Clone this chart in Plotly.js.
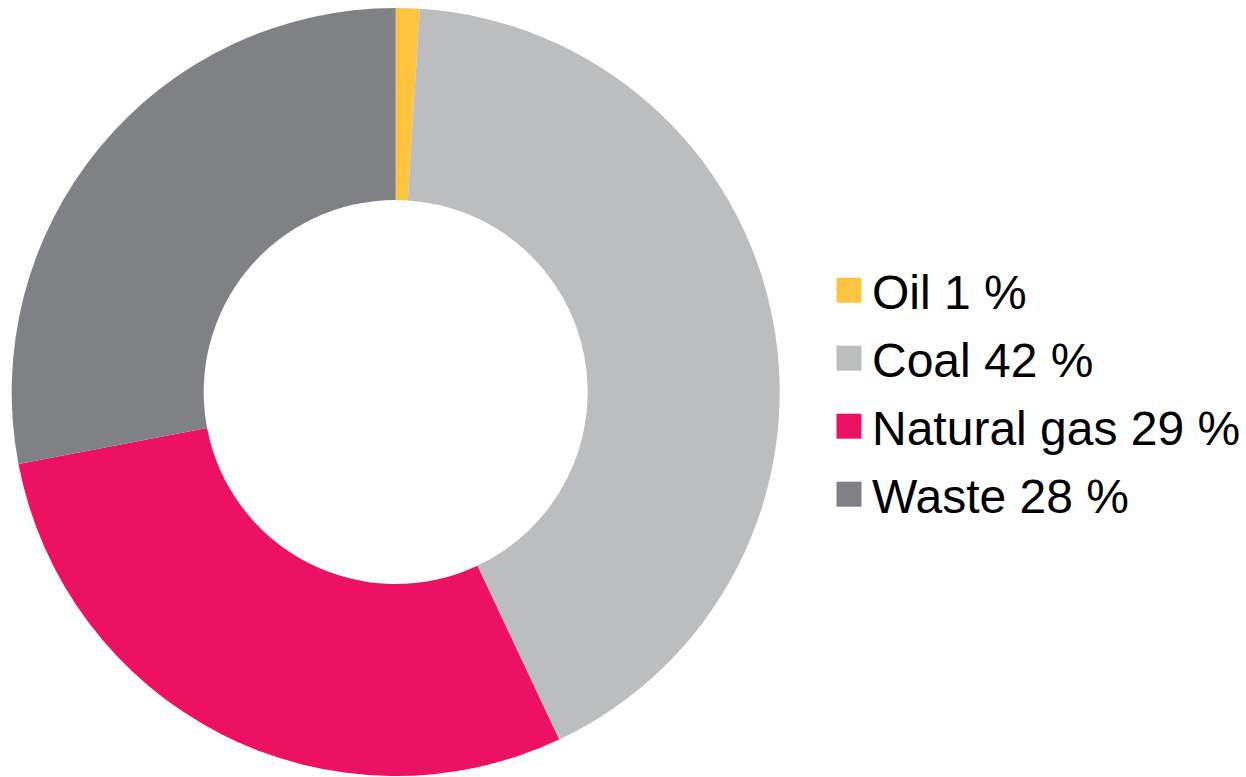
<!DOCTYPE html>
<html>
<head>
<meta charset="utf-8">
<script src="https://cdn.plot.ly/plotly-3.0.1.min.js"></script>
<style>html,body{margin:0;padding:0;background:#fff;}#chart{width:1246px;height:777px;}</style>
</head>
<body>
<div id="chart"></div>
<script>
const categories = ["Oil", "Coal", "Natural gas", "Waste"];
const shares = [1, 42, 29, 28];
const colors = ["#FEC43F", "#BCBDBF", "#ED1164", "#808184"];

const labels = categories.map((c, i) => c + " " + shares[i] + " %");

const data = [{
  type: "pie",
  labels: labels,
  values: shares,
  sort: false,
  direction: "clockwise",
  rotation: 0,
  hole: 0.5,
  textinfo: "none",
  hoverinfo: "none",
  marker: {colors: colors, line: {width: 0}},
  domain: {x: [10/1246, 782/1246], y: [1/777, 769/777]}
}];

const layout = {
  width: 1246,
  height: 777,
  margin: {l: 0, r: 0, t: 0, b: 0},
  paper_bgcolor: "#fff",
  showlegend: true,
  legend: {
    x: 833/1246, xanchor: "left",
    y: 0.5, yanchor: "middle",
    font: {family: "Arial", size: 48, color: "#000"},
    bgcolor: "rgba(0,0,0,0)",
    itemclick: false
  }
};

Plotly.newPlot("chart", data, layout, {staticPlot: true, displayModeBar: false}).then(() => {
  const items = Array.from(document.querySelectorAll("#chart .legend .traces"));
  const rowGap = 68;
  let y0 = null, x0 = null;
  items.forEach((g, i) => {
    const m = /translate\(\s*([-\d.]+)[ ,]+([-\d.]+)\s*\)/.exec(g.getAttribute("transform") || "");
    if (m) {
      if (y0 === null) { x0 = parseFloat(m[1]); y0 = parseFloat(m[2]); }
      g.setAttribute("transform", "translate(" + x0 + "," + (y0 + i * rowGap) + ")");
    }
    const text = g.querySelector("text.legendtext");
    const p = g.querySelector(".legendpoints path");
    if (p && text) {
      const bb = p.getBBox();
      const tx = parseFloat(text.getAttribute("x")) || 40;
      const cx = tx - 23;
      const sx = 25 / bb.width, sy = 25 / bb.height;
      const ocx = bb.x + bb.width / 2, ocy = bb.y + bb.height / 2;
      p.setAttribute("transform", "translate(" + (cx - ocx * sx) + "," + (-ocy * sy) + ") scale(" + sx + "," + sy + ")");
    }
  });
});
</script>
</body>
</html>
